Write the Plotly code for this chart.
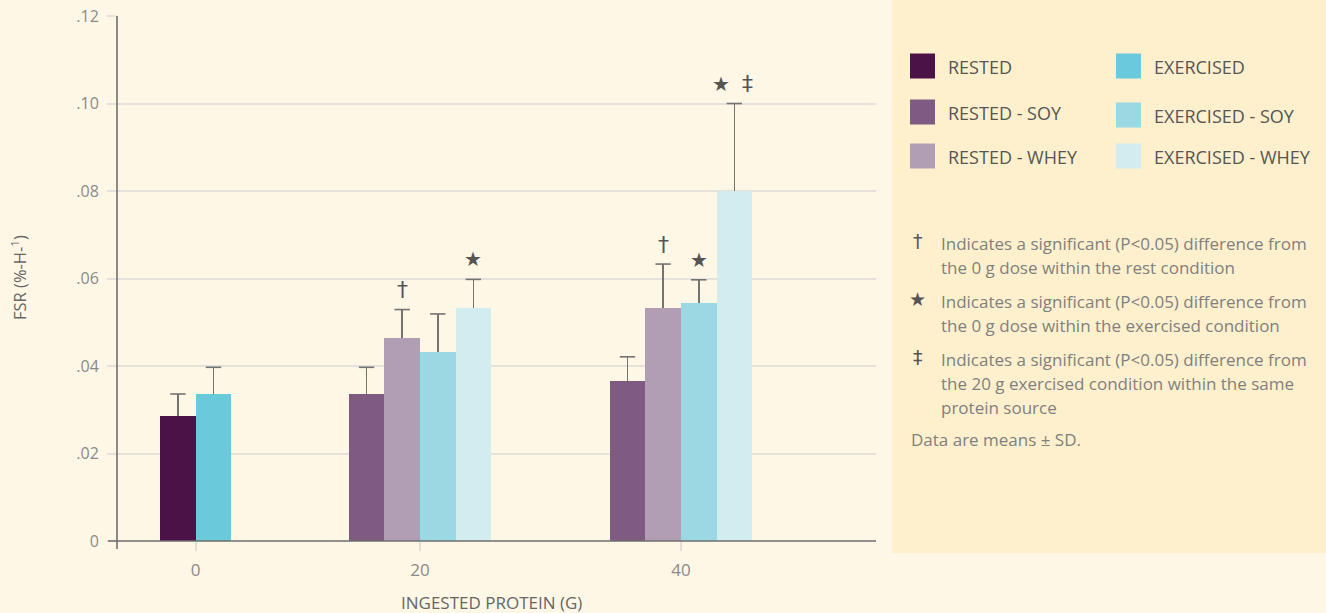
import plotly.graph_objects as go

# ---------------- data ----------------
doses = ["0", "20", "40"]
series_names = ["RESTED", "RESTED - SOY", "RESTED - WHEY",
                "EXERCISED", "EXERCISED - SOY", "EXERCISED - WHEY"]
rested = [0.0286, None, None]
rested_sd = [0.0050, None, None]
rested_soy = [None, 0.0336, 0.0366]
rested_soy_sd = [None, 0.0061, 0.0055]
rested_whey = [None, 0.0464, 0.0533]
rested_whey_sd = [None, 0.0065, 0.0100]
exercised = [0.0336, None, None]
exercised_sd = [0.0061, None, None]
exercised_soy = [None, 0.0432, 0.0544]
exercised_soy_sd = [None, 0.0087, 0.0053]
exercised_whey = [None, 0.0533, 0.0800]
exercised_whey_sd = [None, 0.0065, 0.0200]

y_ticks = [0, 0.02, 0.04, 0.06, 0.08, 0.10, 0.12]
y_ticktext = ["0", ".02", ".04", ".06", ".08", ".10", ".12"]

# significance marks: (series, dose, symbol)
sig_marks = [("RESTED - WHEY", "20", "†"), ("EXERCISED - WHEY", "20", "★"),
             ("RESTED - WHEY", "40", "†"), ("EXERCISED - SOY", "40", "★"),
             ("EXERCISED - WHEY", "40", "★"), ("EXERCISED - WHEY", "40", "‡")]

notes = [("†", ["Indicates a significant (P<0.05) difference from",
                "the 0 g dose within the rest condition"]),
         ("★", ["Indicates a significant (P<0.05) difference from",
                "the 0 g dose within the exercised condition"]),
         ("‡", ["Indicates a significant (P<0.05) difference from",
                "the 20 g exercised condition within the same",
                "protein source"])]
footnote = "Data are means ± SD."

# ---------------- styles / layout ----------------
values = dict(zip(series_names, [rested, rested_soy, rested_whey,
                                 exercised, exercised_soy, exercised_whey]))
sds = dict(zip(series_names, [rested_sd, rested_soy_sd, rested_whey_sd,
                              exercised_sd, exercised_soy_sd, exercised_whey_sd]))
colors = dict(zip(series_names, ["#4b1248", "#7f5b82", "#b29eb4",
                                 "#6ac9db", "#9ad8e4", "#d3ecf0"]))

W, H = 1326, 613
L, R, T, B = 117, 876, 16, 541
BG = "#fef7e6"
PANEL = "#fef0cc"
FONT = "Open Sans"
ERR = "#737373"

group_center = [2.21, 8.51, 15.84]   # slot units (1 slot = one bar width)
x_range = [0, (R - L) / 35.6]


def px_x(p):
    return (p - L) / (R - L)


def px_y(p):
    return (B - p) / (B - T)


# bar positions
positions = {s: [None] * len(doses) for s in series_names}
for g in range(len(doses)):
    present = [s for s in series_names if values[s][g] is not None]
    n = len(present)
    for i, s in enumerate(present):
        positions[s][g] = group_center[g] + (i - (n - 1) / 2)

fig = go.Figure()
for s in series_names:
    idx = [g for g in range(len(doses)) if values[s][g] is not None]
    xs = [positions[s][g] for g in idx]
    ys = [values[s][g] for g in idx]
    es = [sds[s][g] for g in idx]
    fig.add_trace(go.Bar(
        x=xs, y=ys, width=1, name=s, showlegend=False,
        marker=dict(color=colors[s], line=dict(width=0)),
        error_y=dict(type="data", symmetric=False, array=es,
                     arrayminus=[0] * len(es), color=ERR,
                     thickness=1.6, width=0),
    ))
    # error bar caps at mean + SD
    fig.add_trace(go.Scatter(
        x=xs, y=[v + e for v, e in zip(ys, es)], mode="markers",
        showlegend=False, hoverinfo="skip",
        marker=dict(symbol="line-ew", size=11,
                    line=dict(color=ERR, width=1.6)),
    ))

annotations = []
# significance marks
grouped = {}
for s, d, sym in sig_marks:
    grouped.setdefault((s, d), []).append(sym)
for (s, d), syms in grouped.items():
    g = doses.index(d)
    top = values[s][g] + sds[s][g]
    n = len(syms)
    for i, sym in enumerate(syms):
        xs = (i - (n - 1) / 2) * 26
        annotations.append(dict(
            x=positions[s][g], y=top, xref="x", yref="y", text=sym,
            showarrow=False, yanchor="middle", yshift=20, xshift=xs,
            font=dict(family="DejaVu Sans", size=20 if sym == "★" else 22,
                      color="#555555")))

# axis titles
annotations.append(dict(x=px_x(19), y=px_y(277), xref="paper", yref="paper",
                        text="FSR (%-H-<sup>1</sup>)", textangle=-90,
                        showarrow=False, xanchor="center", yanchor="middle",
                        font=dict(family=FONT, size=16.5, color="#666666")))
annotations.append(dict(x=px_x(491), y=px_y(602), xref="paper", yref="paper",
                        text="INGESTED PROTEIN (G)", showarrow=False,
                        xanchor="center", yanchor="middle",
                        font=dict(family=FONT, size=17, color="#666666")))

shapes = []
# side panel
shapes.append(dict(type="rect", xref="paper", yref="paper",
                   x0=px_x(892), x1=px_x(1330), y0=px_y(553), y1=px_y(-5),
                   fillcolor=PANEL, line=dict(width=0), layer="below"))
# axis lines
shapes.append(dict(type="line", xref="paper", yref="paper",
                   x0=px_x(108), x1=1, y0=0, y1=0,
                   line=dict(color="#6e6e6e", width=1.6)))
shapes.append(dict(type="line", xref="paper", yref="paper",
                   x0=0, x1=0, y0=px_y(549), y1=1,
                   line=dict(color="#6e6e6e", width=1.6)))

# legend (custom, two columns)
legend_cols = [["RESTED", "RESTED - SOY", "RESTED - WHEY"],
               ["EXERCISED", "EXERCISED - SOY", "EXERCISED - WHEY"]]
col_x = [910, 1116]
row_y = [66, 112, 156]
for c, col in enumerate(legend_cols):
    for r, s in enumerate(col):
        cy = row_y[r] + (3 if (c == 1 and r == 1) else 0)
        shapes.append(dict(type="rect", xref="paper", yref="paper",
                           x0=px_x(col_x[c]), x1=px_x(col_x[c] + 25),
                           y0=px_y(cy + 12.5), y1=px_y(cy - 12.5),
                           fillcolor=colors[s], line=dict(width=0)))
        annotations.append(dict(x=px_x(col_x[c] + 36), y=px_y(cy + 1),
                                xref="paper", yref="paper", text=s,
                                showarrow=False, xanchor="left",
                                yanchor="middle",
                                font=dict(family=FONT, size=18,
                                          color="#555555")))

# notes
line_y = 243
for sym, lines in notes:
    annotations.append(dict(x=px_x(918), y=px_y(line_y - 2), xref="paper",
                            yref="paper", text=sym, showarrow=False,
                            xanchor="center", yanchor="middle",
                            font=dict(family="DejaVu Sans", size=19,
                                      color="#555555")))
    for ln in lines:
        annotations.append(dict(x=px_x(939), y=px_y(line_y), xref="paper",
                                yref="paper", text=ln, showarrow=False,
                                xanchor="left", yanchor="middle",
                                font=dict(family=FONT, size=17,
                                          color="#808080")))
        line_y += 24
    line_y += 10
annotations.append(dict(x=px_x(909), y=px_y(439), xref="paper", yref="paper",
                        text=footnote, showarrow=False, xanchor="left",
                        yanchor="middle",
                        font=dict(family=FONT, size=17, color="#808080")))

fig.update_layout(
    width=W, height=H,
    margin=dict(l=L, r=W - R, t=T, b=H - B, autoexpand=False),
    paper_bgcolor=BG, plot_bgcolor=BG,
    bargap=0, barmode="overlay",
    font=dict(family=FONT, color="#888888"),
    xaxis=dict(range=x_range, tickvals=group_center, ticktext=doses,
               showgrid=False, zeroline=False, showline=False,
               ticks="outside", ticklen=9, tickcolor="#e2ddd6", tickwidth=1.5,
               ticklabelstandoff=5,
               tickfont=dict(family=FONT, size=17, color="#8a8a8a")),
    yaxis=dict(range=[0, 0.12], tickvals=y_ticks, ticktext=y_ticktext,
               showgrid=True, gridcolor="#e4e0da", gridwidth=1.5,
               zeroline=False, showline=False,
               ticks="outside", ticklen=9, tickcolor="#e4e0da", tickwidth=1.5,
               ticklabelstandoff=5,
               tickfont=dict(family=FONT, size=16, color="#8a8a8a")),
    shapes=shapes, annotations=annotations,
)

fig.write_html("out.html", config={"displayModeBar": False},
               post_script="document.body.style.margin='0px';"
                           "document.body.style.background='" + BG + "';")
